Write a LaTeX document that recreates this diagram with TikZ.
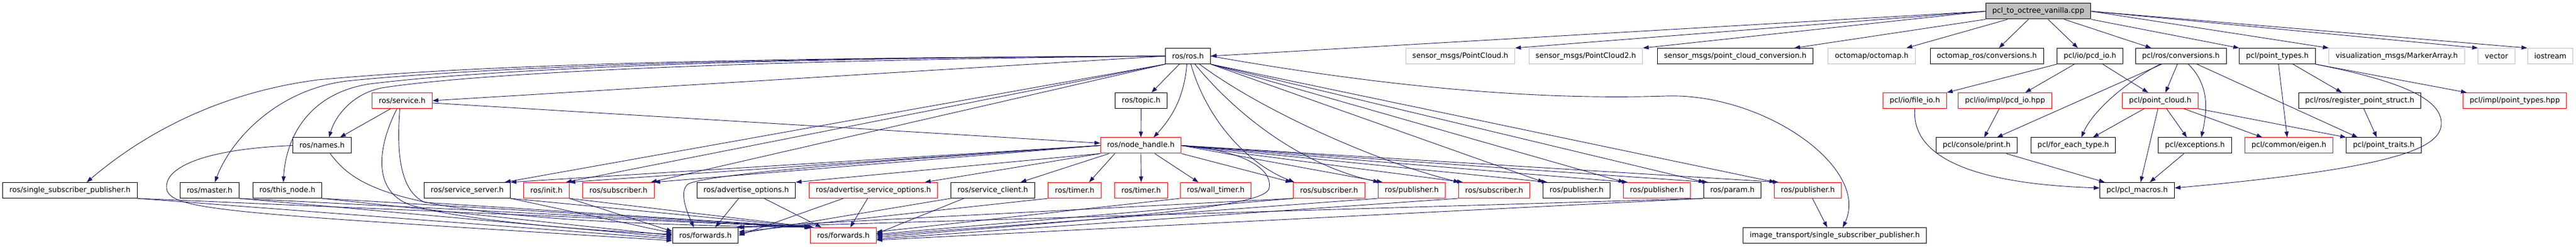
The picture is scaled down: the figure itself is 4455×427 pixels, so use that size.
\documentclass[tikz,border=0pt]{standalone}
\usepackage{fontspec}
\setmainfont{DejaVu Sans}
\usetikzlibrary{arrows.meta,positioning}
\definecolor{edgeblue}{HTML}{191970}
\definecolor{undocgray}{HTML}{BFBFBF}

\begin{document}
\begin{tikzpicture}[
    x=1pt, y=-1pt,
    every node/.style={font=\fontsize{12.65}{15}\selectfont},
    hdrbox/.style={draw=black, line width=1pt, minimum height=27pt, inner xsep=11.5pt, inner ysep=0pt, fill=white},
    redhdr/.style={hdrbox, draw=red},
    extbox/.style={hdrbox, draw=undocgray},
    srcbox/.style={hdrbox, fill=undocgray},
    incarr/.style={-{Triangle[length=10pt,width=7pt]}, draw=edgeblue, line width=0.9pt}
]
\useasboundingbox (0,0) rectangle (4455,427);

% Source file
\node[srcbox] (root) at (3525,19.5) {pcl\_to\_octree\_vanilla.cpp};

% Direct includes
\node[hdrbox] (ros) at (2054.5,97) {ros/ros.h};
\node[extbox] (pcmsg) at (2525.5,97) {sensor\_msgs/PointCloud.h};
\node[extbox] (pc2msg) at (2742.5,97) {sensor\_msgs/PointCloud2.h};
\node[hdrbox] (pcconv) at (3001,97) {sensor\_msgs/point\_cloud\_conversion.h};
\node[extbox] (octomap) at (3237,97) {octomap/octomap.h};
\node[hdrbox] (octoconv) at (3436,97) {octomap\_ros/conversions.h};
\node[hdrbox] (pcdio) at (3614.5,97) {pcl/io/pcd\_io.h};
\node[hdrbox] (pclconv) at (3771.5,97) {pcl/ros/conversions.h};
\node[hdrbox] (ptypes) at (3938.5,97) {pcl/point\_types.h};
\node[extbox] (marker) at (4145,97) {visualization\_msgs/MarkerArray.h};
\node[extbox] (vector) at (4317.5,97) {vector};
\node[extbox] (iostream) at (4410.5,97) {iostream};

% Second level
\node[redhdr] (service) at (695.5,174) {ros/service.h};
\node[hdrbox] (topic) at (1973.5,174) {ros/topic.h};
\node[redhdr] (fileio) at (3311.5,174) {pcl/io/file\_io.h};
\node[redhdr] (pcdhpp) at (3467.5,174) {pcl/io/impl/pcd\_io.hpp};
\node[redhdr] (ptcloud) at (3736,174) {pcl/point\_cloud.h};
\node[hdrbox] (regstruct) at (4081,174) {pcl/ros/register\_point\_struct.h};
\node[redhdr] (ptypeshpp) at (4349,174) {pcl/impl/point\_types.hpp};

% Third level
\node[hdrbox] (names) at (557,251.5) {ros/names.h};
\node[redhdr] (nodeh) at (1973,251.5) {ros/node\_handle.h};
\node[hdrbox] (print) at (3418.5,251.5) {pcl/console/print.h};
\node[hdrbox] (foreach) at (3585.5,251.5) {pcl/for\_each\_type.h};
\node[hdrbox] (except) at (3796,251.5) {pcl/exceptions.h};
\node[redhdr] (eigen) at (3958.5,251.5) {pcl/common/eigen.h};
\node[hdrbox] (traits) at (4122.5,251.5) {pcl/point\_traits.h};

% Fourth level
\node[hdrbox] (ssp) at (121,329) {ros/single\_subscriber\_publisher.h};
\node[hdrbox] (master) at (362.5,329) {ros/master.h};
\node[hdrbox] (thisnode) at (497,329) {ros/this\_node.h};
\node[hdrbox] (srvserver) at (808,329) {ros/service\_server.h};
\node[redhdr] (init) at (945,329) {ros/init.h};
\node[redhdr] (subA) at (1069.5,329) {ros/subscriber.h};
\node[hdrbox] (advopt) at (1290.5,329) {ros/advertise\_options.h};
\node[redhdr] (advsrv) at (1510.5,329) {ros/advertise\_service\_options.h};
\node[hdrbox] (srvclient) at (1717,329) {ros/service\_client.h};
\node[redhdr] (timerA) at (1858.5,329) {ros/timer.h};
\node[redhdr] (timerB) at (1973.5,329) {ros/timer.h};
\node[redhdr] (walltimer) at (2102.5,329) {ros/wall\_timer.h};
\node[redhdr] (subB) at (2298.5,329) {ros/subscriber.h};
\node[redhdr] (pubA) at (2441.5,329) {ros/publisher.h};
\node[redhdr] (subC) at (2584,329) {ros/subscriber.h};
\node[hdrbox] (pubB) at (2726.5,329) {ros/publisher.h};
\node[redhdr] (pubC) at (2865.5,329) {ros/publisher.h};
\node[hdrbox] (param) at (2996,329) {ros/param.h};
\node[redhdr] (pubD) at (3126.5,329) {ros/publisher.h};
\node[hdrbox] (macros) at (3696,329) {pcl/pcl\_macros.h};

% Bottom level
\node[hdrbox] (fwdA) at (1220,407) {ros/forwards.h};
\node[redhdr] (fwdB) at (1458.5,407) {ros/forwards.h};
\node[hdrbox] (itssp) at (3173,407) {image\_transport/single\_subscriber\_publisher.h};

% Edges from the source file
\draw[incarr] (root.west) -- (ros.east);
\draw[incarr] (root.west) -- (pcmsg.north east);
\draw[incarr] (root.west) -- (pc2msg.north east);
\draw[incarr] (root.south west) -- ([xshift=102pt]pcconv.north);
\draw[incarr] ([xshift=-53pt]root.south) -- ([xshift=60pt]octomap.north);
\draw[incarr] ([xshift=-17pt]root.south) -- ([xshift=21pt]octoconv.north);
\draw[incarr] ([xshift=17pt]root.south) -- ([xshift=-21pt]pcdio.north);
\draw[incarr] ([xshift=45pt]root.south) -- ([xshift=-51pt]pclconv.north);
\draw[incarr] (root.south east) -- (ptypes.north west);
\draw[incarr] (root.east) -- (marker.north west);
\draw[incarr] (root.east) -- (vector.north west);
\draw[incarr] (root.east) -- (iostream.north west);

% Edges from ros/ros.h
\draw[incarr] ([xshift=-15pt]ros.south) -- ([xshift=18pt]topic.north);
\draw[incarr] ([xshift=-2pt]ros.south) .. controls (2048,170) and (2025,205) .. ([xshift=22pt]nodeh.north);
\draw[incarr] (ros.west) -- (service.east);
\draw[incarr] (ros.west) .. controls (1200,105) and (800,130) .. (660,152) .. controls (610,162) and (580,200) .. ([xshift=12pt]names.north);
\draw[incarr] (ros.west) .. controls (1200,100) and (800,115) .. (550,138) .. controls (380,160) and (250,230) .. ([xshift=29pt]ssp.north);
\draw[incarr] (ros.west) .. controls (1200,100) and (800,120) .. (600,140) .. controls (480,155) and (400,240) .. ([xshift=9pt]master.north);
\draw[incarr] (ros.west) .. controls (1200,100) and (800,125) .. (640,145) .. controls (540,160) and (495,230) .. ([xshift=-7pt]thisnode.north);
\draw[incarr] (ros.south west) -- ([xshift=65pt]srvserver.north);
\draw[incarr] (ros.south west) -- ([xshift=-6pt]init.north east);
\draw[incarr] (ros.south west) -- ([xshift=-6pt]subA.north east);
\draw[incarr] ([xshift=5pt]ros.south) .. controls (2085,200) and (2150,280) .. ([xshift=2pt]subB.north west);
\draw[incarr] ([xshift=12pt]ros.south) .. controls (2140,200) and (2250,285) .. ([xshift=2pt]pubA.north west);
\draw[incarr] ([xshift=20pt]ros.south) .. controls (2180,190) and (2380,280) .. ([xshift=2pt]subC.north west);
\draw[incarr] (ros.south east) -- ([xshift=2pt]pubB.north west);
\draw[incarr] (ros.south east) -- ([xshift=2pt]pubC.north west);
\draw[incarr] (ros.south east) -- ([xshift=2pt]param.north west);
\draw[incarr] (ros.south east) -- ([xshift=2pt]pubD.north west);
\draw[incarr] (ros.east) .. controls (2450,160) and (2700,172) .. (2880,166) .. controls (3050,160) and (3235,290) .. ([xshift=14pt]itssp.north);

% Edges from ros/topic.h and ros/service.h
\draw[incarr] (topic) -- (nodeh);
\draw[incarr] ([xshift=-20pt]service.south) -- ([xshift=31pt]names.north);
\draw[incarr] ([yshift=-4pt]service.east) -- ([yshift=4pt]nodeh.west);
\draw[incarr] ([xshift=-9pt]service.south) .. controls (650,260) and (645,335) .. (715,356) .. controls (800,380) and (1000,398) .. ([yshift=2pt]fwdA.west);
\draw[incarr] ([xshift=-4pt]service.south) .. controls (686,260) and (690,330) .. (735,350) -- ([xshift=4pt]fwdB.north west);

% Edges from ros/names.h
\draw[incarr] (names.west) .. controls (350,258) and (285,290) .. (288,325) .. controls (292,365) and (400,368) .. ([yshift=-9pt]fwdA.west);
\draw[incarr] ([xshift=14pt]names.south) .. controls (620,330) and (700,385) .. ([xshift=2pt]fwdB.north west);

% Left part of the fourth level to ros/forwards.h
\draw[incarr] (ssp.south east) -- ([yshift=-6pt]fwdA.west);
\draw[incarr] (ssp.south east) -- (fwdB.north west);
\draw[incarr] (master.south east) -- ([yshift=-3pt]fwdA.west);
\draw[incarr] (master.south east) -- (fwdB.north west);
\draw[incarr] (thisnode.south east) -- (fwdA.west);
\draw[incarr] (thisnode.south east) -- ([xshift=2pt]fwdB.north west);
\draw[incarr] (srvserver.south east) -- ([yshift=4pt]fwdA.west);
\draw[incarr] (srvserver.south east) -- ([xshift=4pt]fwdB.north west);
\draw[incarr] (init.south east) -- ([yshift=7pt]fwdA.west);
\draw[incarr] (init.south east) -- ([xshift=6pt]fwdB.north west);
\draw[incarr] ([xshift=-13pt]advopt.south) -- ([xshift=17pt]fwdA.north);
\draw[incarr] ([xshift=31pt]advopt.south) -- ([xshift=-38pt]fwdB.north);
\draw[incarr] ([xshift=-52pt]advsrv.south) -- (fwdA.east);
\draw[incarr] ([xshift=-10pt]advsrv.south) -- ([xshift=12pt]fwdB.north);
\draw[incarr] (srvclient.south west) -- ([yshift=3pt]fwdA.east);
\draw[incarr] ([xshift=-50pt]srvclient.south) -- ([yshift=3pt]fwdB.east);
\draw[incarr] (timerA.south west) -- ([yshift=6pt]fwdA.east);

% Edges from ros/node_handle.h
\draw[incarr] (nodeh.west) -- (srvserver.north east);
\draw[incarr] (nodeh.west) -- (init.north east);
\draw[incarr] (nodeh.west) -- (subA.north east);
\draw[incarr] (nodeh.south west) -- (advopt.north east);
\draw[incarr] (nodeh.south west) -- ([xshift=89pt]advsrv.north);
\draw[incarr] ([xshift=-55pt]nodeh.south) -- ([xshift=48pt]srvclient.north);
\draw[incarr] ([xshift=-45pt]nodeh.south) -- ([xshift=25pt]timerA.north);
\draw[incarr] (nodeh.south) -- (timerB.north);
\draw[incarr] ([xshift=24pt]nodeh.south) -- ([xshift=-30pt]walltimer.north);
\draw[incarr] (nodeh.south east) -- ([xshift=-3pt]subB.north west);
\draw[incarr] (nodeh.east) -- ([xshift=8pt]pubA.north west);
\draw[incarr] (nodeh.east) -- ([xshift=8pt]subC.north west);
\draw[incarr] (nodeh.east) -- ([xshift=8pt]pubB.north west);
\draw[incarr] (nodeh.east) -- ([xshift=8pt]pubC.north west);
\draw[incarr] (nodeh.east) -- ([xshift=8pt]param.north west);
\draw[incarr] (nodeh.east) -- ([xshift=8pt]pubD.north west);
\draw[incarr] (nodeh.west) .. controls (1500,280) and (1230,300) .. (1190,318) .. controls (1175,330) and (1185,360) .. ([xshift=-20pt]fwdA.north);
\draw[incarr] (nodeh.east) .. controls (2170,262) and (2200,300) .. (2195,325) .. controls (2190,355) and (2000,372) .. ([yshift=-3pt]fwdB.east);

% Right part of the fourth level to ros/forwards.h
\draw[incarr] (walltimer.south west) -- ([yshift=6pt]fwdB.east);
\draw[incarr] (subB.south west) -- ([yshift=2pt]fwdB.east);
\draw[incarr] (subB.south west) -- ([xshift=-4pt]fwdA.north east);
\draw[incarr] (pubA.south west) -- (fwdB.east);
\draw[incarr] (subC.south west) -- ([yshift=-6pt]fwdB.east);
\draw[incarr] (param.south west) -- (fwdA.north east);
\draw[incarr] (param.south west) -- ([yshift=-8pt]fwdB.east);
\draw[incarr] ([xshift=8pt]pubD.south) -- ([xshift=-13pt]itssp.north);

% PCL headers
\draw[incarr] (pcdio.south west) -- (fileio.north east);
\draw[incarr] ([xshift=-27pt]pcdio.south) -- ([xshift=35pt]pcdhpp.north);
\draw[incarr] ([xshift=22pt]pcdio.south) -- ([xshift=-21pt]ptcloud.north);
\draw[incarr] (fileio.south) .. controls (3305,275) and (3420,318) .. ([yshift=4pt]macros.west);
\draw[incarr] ([xshift=-10pt]pcdhpp.south) -- ([xshift=13pt]print.north);
\draw[incarr] ([xshift=51pt]print.south) -- ([xshift=-56pt]macros.north);
\draw[incarr] ([xshift=-33pt]pclconv.south) -- ([xshift=35pt]print.north);
\draw[incarr] ([xshift=-36pt]pclconv.south) .. controls (3680,140) and (3620,190) .. ([xshift=14pt]foreach.north);
\draw[incarr] ([xshift=-6pt]pclconv.south) -- ([xshift=9pt]ptcloud.north);
\draw[incarr] ([xshift=13pt]pclconv.south) .. controls (3825,150) and (3815,200) .. ([xshift=11pt]except.north);
\draw[incarr] ([xshift=28pt]pclconv.south) -- ([xshift=-45pt]traits.north);
\draw[incarr] ([xshift=-28pt]ptcloud.south) -- ([xshift=34pt]foreach.north);
\draw[incarr] ([xshift=-4pt]ptcloud.south) -- ([xshift=6pt]macros.north);
\draw[incarr] ([xshift=11pt]ptcloud.south) -- ([xshift=-14pt]except.north);
\draw[incarr] ([xshift=41pt]ptcloud.south) -- ([xshift=-46pt]eigen.north);
\draw[incarr] (ptcloud.south east) -- (traits.north west);
\draw[incarr] ([xshift=-19pt]except.south) -- ([xshift=22pt]macros.north);
\draw[incarr] ([xshift=2pt]ptypes.south) -- ([xshift=-3pt]eigen.north);
\draw[incarr] ([xshift=27pt]ptypes.south) -- ([xshift=-31pt]regstruct.north);
\draw[incarr] (ptypes.south east) -- ([xshift=7pt]ptypeshpp.north west);
\draw[incarr] (ptypes.south east) .. controls (4150,140) and (4222,170) .. (4222,213) .. controls (4222,255) and (4150,290) .. ([yshift=4pt]macros.east);
\draw[incarr] ([xshift=7pt]regstruct.south) -- ([xshift=-12pt]traits.north);
\end{tikzpicture}
\end{document}
